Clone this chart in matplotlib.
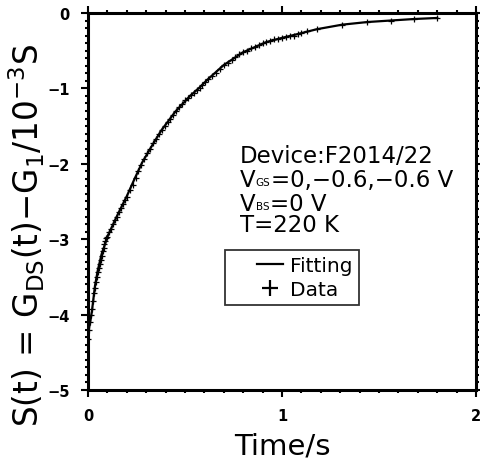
import matplotlib
matplotlib.use("Agg")
import matplotlib.pyplot as plt
from matplotlib.ticker import MultipleLocator
from matplotlib.legend_handler import HandlerLine2D

# fitted curve
fit_t = [0, 0.01, 0.02, 0.036, 0.05, 0.07, 0.103, 0.15, 0.20, 0.24, 0.28, 0.33,
         0.38, 0.45, 0.526, 0.57, 0.62, 0.70, 0.80, 0.92, 1.0, 1.08, 1.18, 1.31,
         1.44, 1.56, 1.68, 1.80]
fit_s = [-4.25, -4.12, -3.96, -3.62, -3.42, -3.20, -2.95, -2.69, -2.43, -2.20,
         -1.98, -1.76, -1.55, -1.31, -1.10, -1.00, -0.875, -0.69, -0.52, -0.385,
         -0.33, -0.28, -0.215, -0.155, -0.12, -0.10, -0.08, -0.066]

# measured points
data_t = [0.000, 0.005, 0.010, 0.015, 0.020, 0.025, 0.030, 0.035, 0.040, 0.045,
          0.050, 0.055, 0.060, 0.065, 0.070, 0.075, 0.080, 0.085, 0.090, 0.095,
          0.100, 0.110, 0.120, 0.130, 0.140, 0.150, 0.160, 0.170, 0.180, 0.190,
          0.200, 0.215, 0.230, 0.245, 0.260, 0.275, 0.290, 0.305, 0.320, 0.335,
          0.350, 0.365, 0.380, 0.395, 0.410, 0.425, 0.440, 0.455, 0.470, 0.485,
          0.500, 0.515, 0.530, 0.545, 0.560, 0.575, 0.590, 0.605, 0.620, 0.640,
          0.660, 0.680, 0.700, 0.720, 0.740, 0.760, 0.780, 0.800, 0.820, 0.840,
          0.860, 0.880, 0.900, 0.920, 0.940, 0.960, 0.980, 1.000, 1.020, 1.040,
          1.060, 1.080, 1.100, 1.130, 1.180, 1.310, 1.440, 1.560, 1.680, 1.800]
data_s = [-4.32, -4.20, -4.10, -4.00, -3.93, -3.82, -3.72, -3.65, -3.57, -3.50,
          -3.44, -3.38, -3.33, -3.28, -3.22, -3.16, -3.12, -3.06, -3.02, -2.99,
          -2.97, -2.91, -2.86, -2.80, -2.74, -2.70, -2.64, -2.58, -2.53, -2.48,
          -2.44, -2.35, -2.28, -2.19, -2.10, -2.01, -1.94, -1.86, -1.80, -1.73,
          -1.67, -1.61, -1.55, -1.50, -1.45, -1.40, -1.35, -1.30, -1.25, -1.21,
          -1.16, -1.13, -1.09, -1.06, -1.02, -0.99, -0.95, -0.91, -0.87, -0.83,
          -0.79, -0.74, -0.69, -0.66, -0.62, -0.59, -0.55, -0.52, -0.50, -0.47,
          -0.45, -0.42, -0.40, -0.385, -0.37, -0.35, -0.34, -0.33, -0.32, -0.30,
          -0.31, -0.28, -0.26, -0.24, -0.21, -0.155, -0.12, -0.10, -0.08, -0.066]

plt.rcParams["font.family"] = "DejaVu Sans"
plt.rcParams["mathtext.default"] = "regular"

fig = plt.figure(figsize=(4.8, 4.6), dpi=100)
ax = fig.add_axes([0.1833, 0.15, 0.8084, 0.8196])

fit_line, = ax.plot(fit_t, fit_s, color="black", lw=1.6, label="Fitting")
data_pts, = ax.plot(data_t, data_s, ls="none", marker="+", ms=5, mew=0.9,
                    color="black", label="Data")

ax.set_xlim(0, 2)
ax.set_ylim(-5, 0)
ax.xaxis.set_major_locator(MultipleLocator(1))
ax.xaxis.set_minor_locator(MultipleLocator(0.1))
ax.yaxis.set_major_locator(MultipleLocator(1))
ax.yaxis.set_minor_locator(MultipleLocator(0.1))

for sp in ax.spines.values():
    sp.set_linewidth(2.2)
ax.tick_params(which="both", direction="out", top=True, right=True, width=1.5)
ax.tick_params(which="major", length=5, pad=8, labelsize=10.5)
ax.tick_params(which="minor", length=2.5)
for lab in ax.get_xticklabels() + ax.get_yticklabels():
    lab.set_fontweight("bold")

ax.set_xlabel("Time/s", fontsize=21, labelpad=6)
ax.set_ylabel(r"S(t)$\,=\,$G$_{\rm DS}$(t)$-$G$_1$/10$^{-3}$S", fontsize=23.5)
ax.yaxis.set_label_coords(-0.105, 0.413)

# text block, subscripts drawn as small chained texts
fs = 16.5
ax.text(0.392, 0.605, "Device:F2014/22", transform=ax.transAxes, fontsize=fs, va="baseline")
for y0, sub, rest in [(0.541, "GS", "=0,\u22120.6,\u22120.6 V"), (0.477, "BS", "=0 V")]:
    t1 = ax.text(0.392, y0, "V", transform=ax.transAxes, fontsize=fs, va="baseline")
    t2 = ax.annotate(sub, xy=(1, 0), xycoords=t1, xytext=(0, 3), textcoords="offset points",
                     fontsize=7.5, va="bottom")
    ax.annotate(rest, xy=(1, 0), xycoords=t2, xytext=(0.5, -3), textcoords="offset points",
                fontsize=fs, va="bottom")
ax.text(0.392, 0.422, "T=220 K", transform=ax.transAxes, fontsize=fs, va="baseline")

hm = {fit_line: HandlerLine2D(xpad=1.3), data_pts: HandlerLine2D(xpad=1.3)}
leg = ax.legend(loc="upper left", bbox_to_anchor=(0.353, 0.371), fontsize=14.5,
                handler_map=hm, frameon=True, fancybox=False, edgecolor="black",
                handlelength=2.6, handletextpad=0.35, borderpad=0.3,
                labelspacing=0.25, borderaxespad=0)
leg.get_frame().set_linewidth(1.3)
leg.legend_handles[1].set_markersize(11)
leg.legend_handles[1].set_markeredgewidth(1.6)

fig.savefig("out.png", dpi=100)
